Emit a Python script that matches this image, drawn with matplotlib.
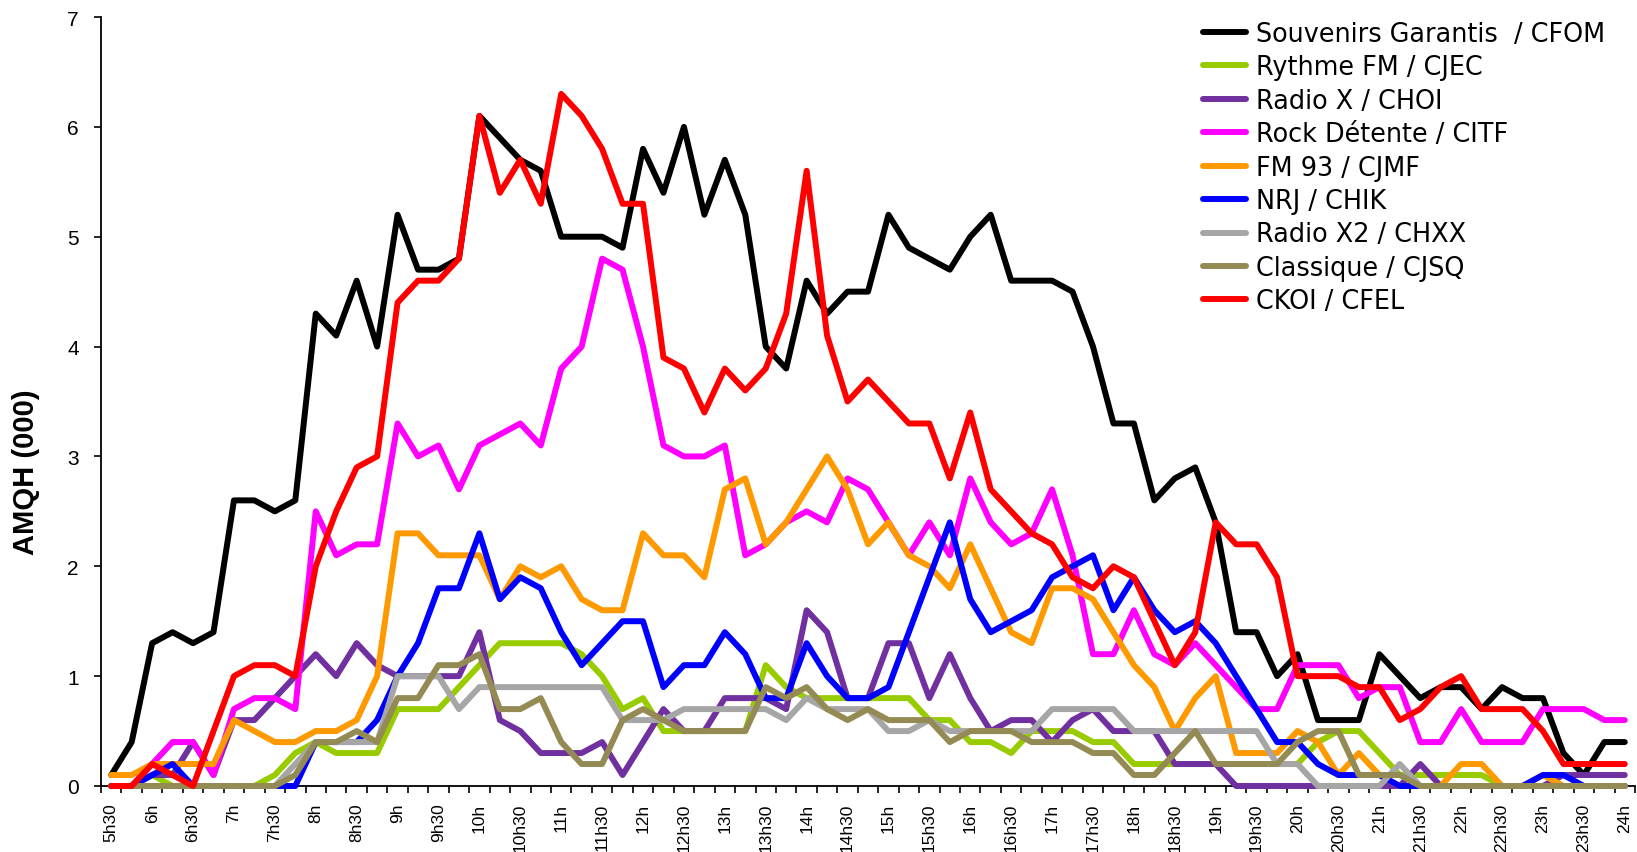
import matplotlib.pyplot as plt
import numpy as np
from matplotlib import font_manager

# quarter-hour points from 5h30 to 24h, a label every half hour
time_labels = ['5h30', '6h', '6h30', '7h', '7h30', '8h', '8h30', '9h', '9h30',
               '10h', '10h30', '11h', '11h30', '12h', '12h30', '13h', '13h30',
               '14h', '14h30', '15h', '15h30', '16h', '16h30', '17h', '17h30',
               '18h', '18h30', '19h', '19h30', '20h', '20h30', '21h', '21h30',
               '22h', '22h30', '23h', '23h30', '24h']

cfom = [0.1, 0.4, 1.3, 1.4, 1.3, 1.4, 2.6, 2.6, 2.5, 2.6,
        4.3, 4.1, 4.6, 4.0, 5.2, 4.7, 4.7, 4.8, 6.1, 5.9,
        5.7, 5.6, 5.0, 5.0, 5.0, 4.9, 5.8, 5.4, 6.0, 5.2,
        5.7, 5.2, 4.0, 3.8, 4.6, 4.3, 4.5, 4.5, 5.2, 4.9,
        4.8, 4.7, 5.0, 5.2, 4.6, 4.6, 4.6, 4.5, 4.0, 3.3,
        3.3, 2.6, 2.8, 2.9, 2.4, 1.4, 1.4, 1.0, 1.2, 0.6,
        0.6, 0.6, 1.2, 1.0, 0.8, 0.9, 0.9, 0.7, 0.9, 0.8,
        0.8, 0.3, 0.1, 0.4, 0.4]

cjec = [0.0, 0.0, 0.1, 0.0, 0.0, 0.0, 0.0, 0.0, 0.1, 0.3,
        0.4, 0.3, 0.3, 0.3, 0.7, 0.7, 0.7, 0.9, 1.1, 1.3,
        1.3, 1.3, 1.3, 1.2, 1.0, 0.7, 0.8, 0.5, 0.5, 0.5,
        0.5, 0.5, 1.1, 0.9, 0.8, 0.8, 0.8, 0.8, 0.8, 0.8,
        0.6, 0.6, 0.4, 0.4, 0.3, 0.5, 0.5, 0.5, 0.4, 0.4,
        0.2, 0.2, 0.2, 0.2, 0.2, 0.2, 0.2, 0.2, 0.2, 0.4,
        0.5, 0.5, 0.3, 0.1, 0.1, 0.1, 0.1, 0.1, 0.0, 0.0,
        0.0, 0.0, 0.0, 0.0, 0.0]

choi = [0.0, 0.0, 0.1, 0.1, 0.4, 0.1, 0.6, 0.6, 0.8, 1.0,
        1.2, 1.0, 1.3, 1.1, 1.0, 1.0, 1.0, 1.0, 1.4, 0.6,
        0.5, 0.3, 0.3, 0.3, 0.4, 0.1, 0.4, 0.7, 0.5, 0.5,
        0.8, 0.8, 0.8, 0.7, 1.6, 1.4, 0.8, 0.8, 1.3, 1.3,
        0.8, 1.2, 0.8, 0.5, 0.6, 0.6, 0.4, 0.6, 0.7, 0.5,
        0.5, 0.5, 0.2, 0.2, 0.2, 0.0, 0.0, 0.0, 0.0, 0.0,
        0.0, 0.0, 0.0, 0.0, 0.2, 0.0, 0.0, 0.0, 0.0, 0.0,
        0.0, 0.1, 0.1, 0.1, 0.1]

citf = [0.0, 0.0, 0.2, 0.4, 0.4, 0.1, 0.7, 0.8, 0.8, 0.7,
        2.5, 2.1, 2.2, 2.2, 3.3, 3.0, 3.1, 2.7, 3.1, 3.2,
        3.3, 3.1, 3.8, 4.0, 4.8, 4.7, 4.0, 3.1, 3.0, 3.0,
        3.1, 2.1, 2.2, 2.4, 2.5, 2.4, 2.8, 2.7, 2.4, 2.1,
        2.4, 2.1, 2.8, 2.4, 2.2, 2.3, 2.7, 2.1, 1.2, 1.2,
        1.6, 1.2, 1.1, 1.3, 1.1, 0.9, 0.7, 0.7, 1.1, 1.1,
        1.1, 0.8, 0.9, 0.9, 0.4, 0.4, 0.7, 0.4, 0.4, 0.4,
        0.7, 0.7, 0.7, 0.6, 0.6]

cjmf = [0.1, 0.1, 0.2, 0.2, 0.2, 0.2, 0.6, 0.5, 0.4, 0.4,
        0.5, 0.5, 0.6, 1.0, 2.3, 2.3, 2.1, 2.1, 2.1, 1.7,
        2.0, 1.9, 2.0, 1.7, 1.6, 1.6, 2.3, 2.1, 2.1, 1.9,
        2.7, 2.8, 2.2, 2.4, 2.7, 3.0, 2.7, 2.2, 2.4, 2.1,
        2.0, 1.8, 2.2, 1.8, 1.4, 1.3, 1.8, 1.8, 1.7, 1.4,
        1.1, 0.9, 0.5, 0.8, 1.0, 0.3, 0.3, 0.3, 0.5, 0.4,
        0.1, 0.3, 0.1, 0.0, 0.0, 0.0, 0.2, 0.2, 0.0, 0.0,
        0.1, 0.0, 0.0, 0.0, 0.0]

chik = [0.0, 0.0, 0.1, 0.2, 0.0, 0.0, 0.0, 0.0, 0.0, 0.0,
        0.4, 0.4, 0.4, 0.6, 1.0, 1.3, 1.8, 1.8, 2.3, 1.7,
        1.9, 1.8, 1.4, 1.1, 1.3, 1.5, 1.5, 0.9, 1.1, 1.1,
        1.4, 1.2, 0.8, 0.8, 1.3, 1.0, 0.8, 0.8, 0.9, 1.4,
        1.9, 2.4, 1.7, 1.4, 1.5, 1.6, 1.9, 2.0, 2.1, 1.6,
        1.9, 1.6, 1.4, 1.5, 1.3, 1.0, 0.7, 0.4, 0.4, 0.2,
        0.1, 0.1, 0.1, 0.0, 0.0, 0.0, 0.0, 0.0, 0.0, 0.0,
        0.1, 0.1, 0.0, 0.0, 0.0]

chxx = [0.0, 0.0, 0.0, 0.0, 0.0, 0.0, 0.0, 0.0, 0.0, 0.2,
        0.4, 0.4, 0.4, 0.4, 1.0, 1.0, 1.0, 0.7, 0.9, 0.9,
        0.9, 0.9, 0.9, 0.9, 0.9, 0.6, 0.6, 0.6, 0.7, 0.7,
        0.7, 0.7, 0.7, 0.6, 0.8, 0.7, 0.7, 0.7, 0.5, 0.5,
        0.6, 0.5, 0.5, 0.5, 0.5, 0.5, 0.7, 0.7, 0.7, 0.7,
        0.5, 0.5, 0.5, 0.5, 0.5, 0.5, 0.5, 0.2, 0.2, 0.0,
        0.0, 0.0, 0.0, 0.2, 0.0, 0.0, 0.0, 0.0, 0.0, 0.0,
        0.0, 0.0, 0.0, 0.0, 0.0]

cjsq = [0.0, 0.0, 0.0, 0.0, 0.0, 0.0, 0.0, 0.0, 0.0, 0.1,
        0.4, 0.4, 0.5, 0.4, 0.8, 0.8, 1.1, 1.1, 1.2, 0.7,
        0.7, 0.8, 0.4, 0.2, 0.2, 0.6, 0.7, 0.6, 0.5, 0.5,
        0.5, 0.5, 0.9, 0.8, 0.9, 0.7, 0.6, 0.7, 0.6, 0.6,
        0.6, 0.4, 0.5, 0.5, 0.5, 0.4, 0.4, 0.4, 0.3, 0.3,
        0.1, 0.1, 0.3, 0.5, 0.2, 0.2, 0.2, 0.2, 0.4, 0.5,
        0.5, 0.1, 0.1, 0.1, 0.0, 0.0, 0.0, 0.0, 0.0, 0.0,
        0.0, 0.0, 0.0, 0.0, 0.0]

cfel = [0.0, 0.0, 0.2, 0.1, 0.0, 0.5, 1.0, 1.1, 1.1, 1.0,
        2.0, 2.5, 2.9, 3.0, 4.4, 4.6, 4.6, 4.8, 6.1, 5.4,
        5.7, 5.3, 6.3, 6.1, 5.8, 5.3, 5.3, 3.9, 3.8, 3.4,
        3.8, 3.6, 3.8, 4.3, 5.6, 4.1, 3.5, 3.7, 3.5, 3.3,
        3.3, 2.8, 3.4, 2.7, 2.5, 2.3, 2.2, 1.9, 1.8, 2.0,
        1.9, 1.5, 1.1, 1.4, 2.4, 2.2, 2.2, 1.9, 1.0, 1.0,
        1.0, 0.9, 0.9, 0.6, 0.7, 0.9, 1.0, 0.7, 0.7, 0.7,
        0.5, 0.2, 0.2, 0.2, 0.2]

stations = ['Souvenirs Garantis  / CFOM', 'Rythme FM / CJEC', 'Radio X / CHOI',
            'Rock Détente / CITF', 'FM 93 / CJMF', 'NRJ / CHIK',
            'Radio X2 / CHXX', 'Classique / CJSQ', 'CKOI / CFEL']
series = [cfom, cjec, choi, citf, cjmf, chik, chxx, cjsq, cfel]
colors = ['#000000', '#99CC00', '#7030A0', '#FF00FF', '#FF9900',
          '#0000FF', '#A6A6A6', '#948A54', '#FF0000']

# narrow font for the time labels if it is there
font_names = {f.name for f in font_manager.fontManager.ttflist}
if 'Liberation Sans Narrow' in font_names:
    xlab_font, xlab_size = 'Liberation Sans Narrow', 15
else:
    xlab_font, xlab_size = 'Liberation Sans', 12.5

fig = plt.figure(figsize=(16.37, 8.53), dpi=100)
ax = fig.add_axes([101 / 1637, 66 / 853, 1534 / 1637, 769 / 853])

x = np.arange(len(cfom))
for name, vals, col in zip(stations, series, colors):
    ax.plot(x, vals, color=col, lw=4.3, label=name, clip_on=False, zorder=3,
            solid_joinstyle='round', solid_capstyle='round')

ax.set_xlim(-0.5, len(cfom) - 0.5)
ax.set_ylim(0, 7)

for side in ['top', 'right']:
    ax.spines[side].set_visible(False)
for side in ['left', 'bottom']:
    ax.spines[side].set_linewidth(1.3)

# category labels every half hour, tick marks between categories
ax.set_xticks(np.arange(0, len(cfom), 2))
ax.set_xticklabels(time_labels, rotation=90, family=xlab_font, fontsize=xlab_size)
ax.set_xticks(np.arange(-0.5, len(cfom), 1), minor=True)
ax.tick_params(axis='x', which='major', length=0, pad=12)
ax.tick_params(axis='x', which='minor', length=5, width=1.2)

ax.set_yticks(range(0, 8))
ax.set_yticklabels([str(v) for v in range(0, 8)], family='Liberation Sans', fontsize=15)
ax.tick_params(axis='y', length=5, width=1.2, pad=11)

ax.set_ylabel('AMQH (000)', family='Liberation Sans', fontweight='bold', fontsize=21)
ax.yaxis.set_label_coords(-0.04, 0.41)

fig.legend(loc='upper left', bbox_to_anchor=(1203 / 1637, 1 - 22 / 853),
           frameon=False, fontsize=18.4, handlelength=1.68, handletextpad=0.38,
           labelspacing=0.29, borderpad=0, borderaxespad=0)

fig.savefig('out.png', dpi=100)
